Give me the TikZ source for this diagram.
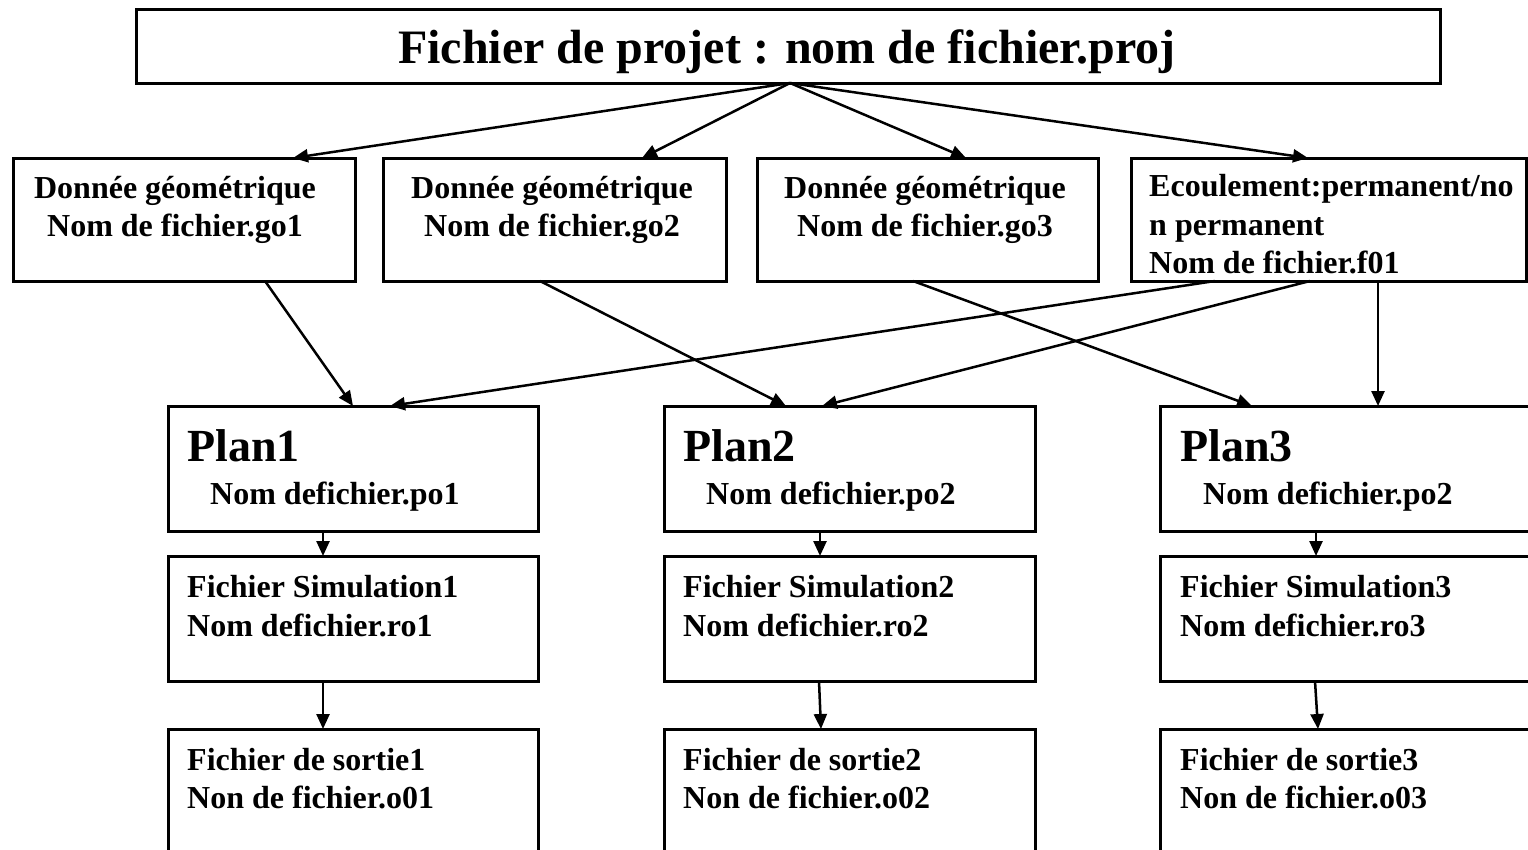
\documentclass[tikz,border=0pt]{standalone}
\usepackage{fontspec}
\setmainfont{Liberation Serif}
\usetikzlibrary{arrows.meta}
\begin{document}
\begin{tikzpicture}[x=1pt,y=-1pt,
  box/.style={draw, line width=3pt, rectangle, inner sep=0pt, outer sep=0pt, anchor=north west},
  arr/.style={line width=2.5pt, -{Triangle[length=15pt,width=13pt]}},
  tbig/.style={font=\fontsize{48}{56}\selectfont\bfseries, inner sep=0pt},
  tplan/.style={font=\fontsize{46}{54}\selectfont\bfseries, inner sep=0pt, anchor=base west},
  tsm/.style={font=\fontsize{32}{38}\selectfont\bfseries, inner sep=0pt},
  tsl/.style={tsm, anchor=base west},
  tsc/.style={tsm, anchor=base}]
\useasboundingbox (0,0) rectangle (1528,849);
\fill[white] (0,0) rectangle (1528,849);
\clip (0,0) rectangle (1528,849);

% boxes
\node[box, minimum width=1304pt, minimum height=74pt] (top) at (136,9) {};
\node[box, minimum width=342pt, minimum height=123pt] (g1) at (13,158) {};
\node[box, minimum width=343pt, minimum height=123pt] (g2) at (383,158) {};
\node[box, minimum width=341pt, minimum height=123pt] (g3) at (757,158) {};
\node[box, minimum width=395pt, minimum height=123pt] (e) at (1131,158) {};
\node[box, minimum width=370pt, minimum height=125pt] (p1) at (168,406) {};
\node[box, minimum width=371pt, minimum height=125pt] (p2) at (664,406) {};
\node[box, minimum width=390pt, minimum height=125pt] (p3) at (1160,406) {};
\node[box, minimum width=370pt, minimum height=125pt] (s1) at (168,556) {};
\node[box, minimum width=371pt, minimum height=125pt] (s2) at (664,556) {};
\node[box, minimum width=390pt, minimum height=125pt] (s3) at (1160,556) {};
\node[box, minimum width=370pt, minimum height=160pt] (o1) at (168,729) {};
\node[box, minimum width=371pt, minimum height=160pt] (o2) at (664,729) {};
\node[box, minimum width=390pt, minimum height=160pt] (o3) at (1160,729) {};

% texts
\node[tbig, anchor=base] (ttop) at (787,63) {Fichier de projet : nom de fichier.proj};
\node[tsc] (g1a) at (175,198) {Donnée géométrique};
\node[tsc] (g1b) at (175,236) {Nom de fichier.go1};
\node[tsc] (g2a) at (552,198) {Donnée géométrique};
\node[tsc] (g2b) at (552,236) {Nom de fichier.go2};
\node[tsc] (g3a) at (925,198) {Donnée géométrique};
\node[tsc] (g3b) at (925,236) {Nom de fichier.go3};
\node[tsl] (ea) at (1149,196) {Ecoulement:permanent/no};
\node[tsl] (eb) at (1149,235) {n permanent};
\node[tsl] (ec) at (1149,273) {Nom de fichier.f01};

\node[tplan] (p1a) at (187,461) {Plan1};
\node[tsl] (p1b) at (210,504) {Nom defichier.po1};
\node[tplan] (p2a) at (683,461) {Plan2};
\node[tsl] (p2b) at (706,504) {Nom defichier.po2};
\node[tplan] (p3a) at (1180,461) {Plan3};
\node[tsl] (p3b) at (1203,504) {Nom defichier.po2};

\node[tsl] (s1a) at (187,597) {Fichier Simulation1};
\node[tsl] (s1b) at (187,636) {Nom defichier.ro1};
\node[tsl] (s2a) at (683,597) {Fichier Simulation2};
\node[tsl] (s2b) at (683,636) {Nom defichier.ro2};
\node[tsl] (s3a) at (1180,597) {Fichier Simulation3};
\node[tsl] (s3b) at (1180,636) {Nom defichier.ro3};

\node[tsl] (o1a) at (187,770) {Fichier de sortie1};
\node[tsl] (o1b) at (187,808) {Non de fichier.o01};
\node[tsl] (o2a) at (683,770) {Fichier de sortie2};
\node[tsl] (o2b) at (683,808) {Non de fichier.o02};
\node[tsl] (o3a) at (1180,770) {Fichier de sortie3};
\node[tsl] (o3b) at (1180,808) {Non de fichier.o03};

% connectors
\draw[arr] ([xshift=654pt]top.south west) -- ([xshift=280pt]g1.north west);
\draw[arr] ([xshift=654pt]top.south west) -- ([xshift=259pt]g2.north west);
\draw[arr] ([xshift=654pt]top.south west) -- ([xshift=209pt]g3.north west);
\draw[arr] ([xshift=654pt]top.south west) -- ([xshift=177pt]e.north west);

\draw[arr] ([xshift=252pt]g1.south west) -- ([xshift=185pt]p1.north west);
\draw[arr] ([xshift=84pt]e.south west) -- ([xshift=222pt]p1.north west);
\draw[arr] ([xshift=157pt]g2.south west) -- ([xshift=122pt]p2.north west);
\draw[arr] ([xshift=179pt]e.south west) -- ([xshift=158pt]p2.north west);
\draw[arr] ([xshift=156pt]g3.south west) -- ([xshift=92pt]p3.north west);
\draw[arr] ([xshift=247pt]e.south west) -- ([xshift=218pt]p3.north west);

\draw[arr] ([xshift=155pt]p1.south west) -- ([xshift=155pt]s1.north west);
\draw[arr] ([xshift=155pt]s1.south west) -- ([xshift=155pt]o1.north west);
\draw[arr] ([xshift=156pt]p2.south west) -- ([xshift=156pt]s2.north west);
\draw[arr] ([xshift=155pt]s2.south west) -- ([xshift=157pt]o2.north west);
\draw[arr] ([xshift=156pt]p3.south west) -- ([xshift=156pt]s3.north west);
\draw[arr] ([xshift=155pt]s3.south west) -- ([xshift=158pt]o3.north west);
\end{tikzpicture}
\end{document}
